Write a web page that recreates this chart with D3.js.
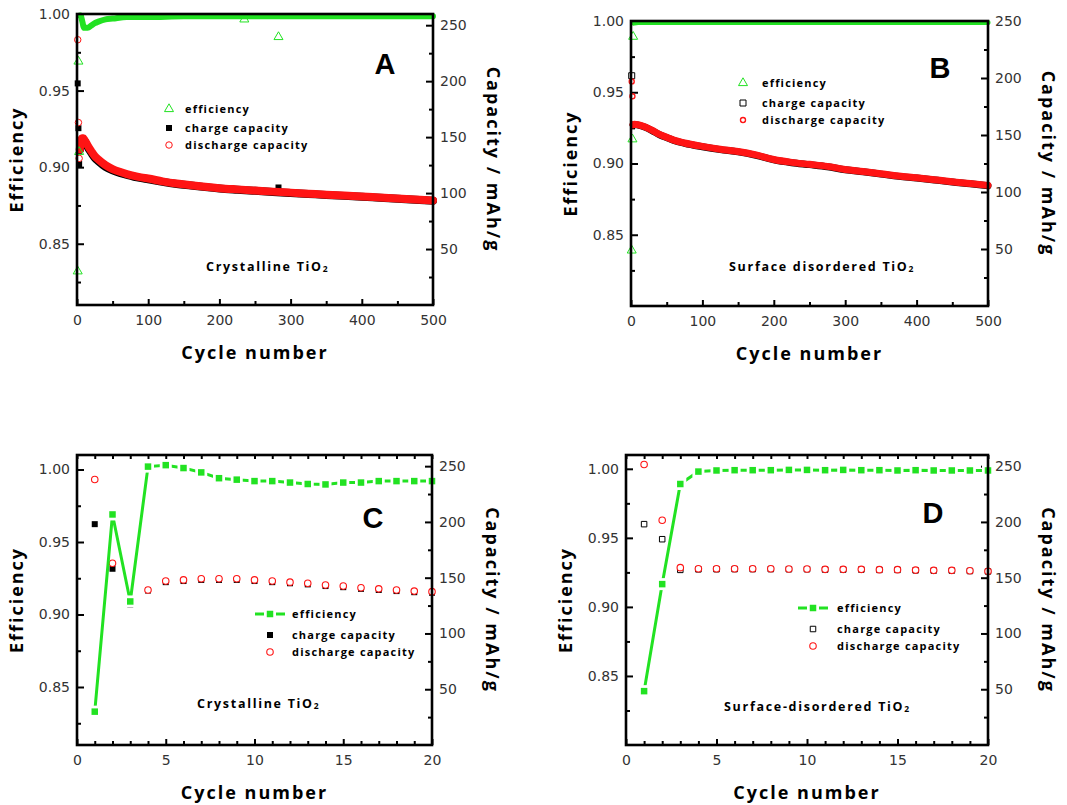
<!DOCTYPE html>
<meta charset='utf-8'>
<title>TiO2 cycling</title>
<style>
body {
  margin: 0;
  background-color: #fff;
}
</style>
<svg width="1067" height="805"></svg>
<script src="https://d3js.org/d3.v7.min.js"></script>
<script>

// ---------- values ----------

// tick labels
var longXTicks  = [0, 100, 200, 300, 400, 500];
var longXMinor  = [50, 150, 250, 350, 450];
var shortXTicks = [0, 5, 10, 15, 20];
var shortXMinor = [1, 2, 3, 4, 6, 7, 8, 9, 11, 12, 13, 14, 16, 17, 18, 19];
var effTicks    = [0.85, 0.90, 0.95, 1.00];
var effMinor    = [0.825, 0.875, 0.925, 0.975];
var capTicks    = [50, 100, 150, 200, 250];
var capMinor    = [25, 75, 125, 175, 225];

// Panel A - crystalline TiO2, 500 cycles
var aEffCycles    = [4, 5, 6, 7, 8, 9, 10, 12, 15, 20, 25, 30, 40, 50, 70, 100, 150, 200, 250, 300, 350, 400, 450, 500];
var aEffValues    = [0.999, 0.999, 0.998, 0.996, 0.994, 0.992, 0.991, 0.991, 0.991, 0.9925, 0.994, 0.995, 0.9965, 0.997, 0.998, 0.998, 0.9985, 0.9985, 0.9985, 0.9985, 0.9985, 0.9985, 0.9985, 0.9985];
var aEffOutCycles = [1, 2, 3, 235, 283];
var aEffOutValues = [0.832, 0.969, 0.910, 0.9965, 0.985];
var aCapCycles    = [4, 5, 6, 7, 8, 9, 10, 12, 15, 20, 25, 30, 40, 50, 60, 70, 80, 90, 100, 120, 140, 160, 180, 200, 225, 250, 275, 300, 325, 350, 375, 400, 425, 450, 475, 500];
var aDisValues    = [139, 147, 148, 149, 149, 149, 148, 146, 142.5, 137.5, 133, 130, 125, 121.5, 119, 117, 115.3, 114, 113, 110.5, 108.5, 107, 105.6, 104.4, 103.3, 102.3, 101.3, 100.4, 99.5, 98.6, 97.8, 97, 96.1, 95.2, 94.3, 93.4];
var aChgValues    = [138.5, 146.5, 147.5, 148, 148, 147.5, 147, 145, 141, 136, 131.5, 128.5, 123.5, 120.3, 118, 116.2, 114.6, 113.4, 112.4, 110, 108.1, 106.7, 105.3, 104.1, 103, 102, 101, 100.1, 99.2, 98.3, 97.5, 96.7, 95.8, 94.9, 94, 93.1];
var aDisOutCycles = [1, 2, 3];
var aDisOutValues = [237, 163, 131];
var aChgOutCycles = [1, 2, 3, 283];
var aChgOutValues = [198, 158, 126, 105];

// Panel B - surface disordered TiO2, 500 cycles
var bEffCycles    = [4, 10, 50, 100, 200, 300, 400, 500];
var bEffValues    = [0.9985, 0.999, 0.999, 0.999, 0.999, 0.999, 0.999, 0.999];
var bEffOutCycles = [1, 2, 3];
var bEffOutValues = [0.839, 0.917, 0.989];
var bCapCycles    = [3, 5, 10, 20, 30, 40, 50, 60, 75, 100, 125, 150, 175, 200, 225, 250, 275, 300, 325, 350, 375, 400, 425, 450, 475, 500];
var bDisValues    = [159, 159.5, 159, 157, 154, 150.5, 148, 145.5, 143, 140, 137.5, 135.5, 132.5, 128.5, 126, 124.3, 122.5, 119.8, 118, 116, 114, 112.5, 110.8, 109, 107.5, 105.8];
var bChgValues    = [158.7, 159.2, 158.7, 156.7, 153.7, 150.2, 147.7, 145.2, 142.7, 139.7, 137.2, 135.2, 132.2, 128.2, 125.7, 124, 122.2, 119.5, 117.7, 115.7, 113.7, 112.2, 110.5, 108.7, 107.2, 105.5];
var bDisOutCycles = [1, 2];
var bDisOutValues = [197, 184];
var bChgOutCycles = [1];
var bChgOutValues = [202];

// Panels C and D - first 20 cycles
var cycles20 = [1, 2, 3, 4, 5, 6, 7, 8, 9, 10, 11, 12, 13, 14, 15, 16, 17, 18, 19, 20];
var cEff = [0.833, 0.969, 0.909, 1.002, 1.003, 1.001, 0.998, 0.994, 0.993, 0.992, 0.992, 0.991, 0.990, 0.9897, 0.991, 0.991, 0.992, 0.992, 0.992, 0.992];
var cDis = [238, 163, 130, 139, 147, 148, 149, 149, 149, 148, 147, 146, 145, 143.5, 142.5, 141, 140, 139, 138, 137.5];
var cChg = [198, 158, 126, 138.5, 146, 147, 148, 148, 148, 147, 146, 145, 144, 142.5, 141.5, 140, 139, 138, 137, 136.5];
var dEff = [0.839, 0.9165, 0.989, 0.998, 0.9988, 0.999, 0.999, 0.999, 0.9992, 0.9992, 0.999, 0.9992, 0.999, 0.999, 0.9988, 0.999, 0.9988, 0.9988, 0.9988, 0.9988];
var dDis = [251.5, 201.5, 159, 158, 158, 158, 158, 158, 157.8, 157.8, 157.5, 157.5, 157.5, 157.2, 157.2, 156.8, 156.6, 156.6, 156.2, 155.8];
var dChg = [198, 184.5, 157, 157.5, 157.6, 157.7, 157.7, 157.7, 157.6, 157.6, 157.3, 157.3, 157.3, 157, 157, 156.6, 156.4, 156.4, 156, 155.6];

var legendNames = ["efficiency", "charge capacity", "discharge capacity"];

// ---------- styles ----------
var GREEN = "#22e222", RED = "#ff1414";
var FONT = "'Open Sans', sans-serif";
var TICKFONT = "'DejaVu Sans', sans-serif";

var svg = d3.select("svg");

var panels = [
  { letter: "A", left: 77, right: 433, top: 14, bottom: 305,
    xDomain: [0, 500], xTicks: longXTicks, xMinor: longXMinor, topTicks: false,
    effDomain: [0.81, 1.0], capDomain: [0, 260],
    letterPos: [-48, 50], material: ["Crystalline TiO", 129, 253],
    legend: { sx: 92, tx: 108, ys: [95, 114, 131] },
    styles: [
      { type: "triangle", size: 9, fill: "none", stroke: GREEN, sw: 1 },
      { type: "square", size: 6, fill: "#000", stroke: "none", sw: 0 },
      { type: "circle", size: 6.5, fill: "#fff", stroke: RED, sw: 1 }
    ],
    series: [
      { band: true, cycles: aCapCycles, values: aChgValues, axis: "cap", s: 1, width: 8, color: "#000" },
      { cycles: aChgOutCycles, values: aChgOutValues, axis: "cap", s: 1 },
      { band: true, cycles: aCapCycles, values: aDisValues, axis: "cap", s: 2, width: 8, color: RED },
      { cycles: aDisOutCycles, values: aDisOutValues, axis: "cap", s: 2 },
      { band: true, cycles: aEffCycles, values: aEffValues, axis: "eff", s: 0, width: 6, color: GREEN },
      { cycles: aEffOutCycles, values: aEffOutValues, axis: "eff", s: 0 }
    ] },
  { letter: "B", left: 631, right: 988, top: 21, bottom: 306,
    xDomain: [0, 500], xTicks: longXTicks, xMinor: longXMinor, topTicks: false,
    effDomain: [0.80, 1.0], capDomain: [0, 250],
    letterPos: [-48, 47], material: ["Surface disordered TiO", 98, 246],
    legend: { sx: 112, tx: 131, ys: [62, 82, 99] },
    styles: [
      { type: "triangle", size: 9, fill: "none", stroke: GREEN, sw: 1 },
      { type: "square", size: 6, fill: "#fff", stroke: "#000", sw: 1 },
      { type: "circle", size: 5, fill: "#fff", stroke: RED, sw: 1.4 }
    ],
    series: [
      { band: true, cycles: bCapCycles, values: bChgValues, axis: "cap", s: 1, width: 7, color: "#000" },
      { cycles: bChgOutCycles, values: bChgOutValues, axis: "cap", s: 1 },
      { band: true, cycles: bCapCycles, values: bDisValues, axis: "cap", s: 2, width: 7, color: RED },
      { cycles: bDisOutCycles, values: bDisOutValues, axis: "cap", s: 2 },
      { band: true, cycles: bEffCycles, values: bEffValues, axis: "eff", s: 0, width: 5, color: GREEN },
      { cycles: bEffOutCycles, values: bEffOutValues, axis: "eff", s: 0 }
    ] },
  { letter: "C", left: 77, right: 432, top: 455, bottom: 745,
    xDomain: [0, 20], xTicks: shortXTicks, xMinor: shortXMinor, topTicks: true,
    effDomain: [0.81, 1.01], capDomain: [0, 260],
    letterPos: [-59, 63], material: ["Crystalline TiO", 120, 249],
    legend: { sx: 193, tx: 215, ys: [159, 180, 197], line: true },
    styles: [
      { type: "square", size: 6.5, fill: GREEN, stroke: "none", sw: 0 },
      { type: "square", size: 6, fill: "#000", stroke: "none", sw: 0 },
      { type: "circle", size: 6.5, fill: "#fff", stroke: RED, sw: 1.1 }
    ],
    series: [
      { cycles: cycles20, values: cChg, axis: "cap", s: 1 },
      { cycles: cycles20, values: cDis, axis: "cap", s: 2 },
      { line: true, cycles: cycles20, values: cEff, axis: "eff", s: 0 }
    ] },
  { letter: "D", left: 626, right: 988, top: 455, bottom: 745,
    xDomain: [0, 20], xTicks: shortXTicks, xMinor: shortXMinor, topTicks: true,
    effDomain: [0.80, 1.01], capDomain: [0, 260],
    letterPos: [-55, 58], material: ["Surface-disordered TiO", 98, 252],
    legend: { sx: 187, tx: 211, ys: [153, 174, 191], line: true },
    styles: [
      { type: "square", size: 6.5, fill: GREEN, stroke: "none", sw: 0 },
      { type: "square", size: 5.5, fill: "#fff", stroke: "#000", sw: 1 },
      { type: "circle", size: 6.5, fill: "#fff", stroke: RED, sw: 1.1 }
    ],
    series: [
      { cycles: cycles20, values: dChg, axis: "cap", s: 1 },
      { cycles: cycles20, values: dDis, axis: "cap", s: 2 },
      { line: true, cycles: cycles20, values: dEff, axis: "eff", s: 0 }
    ] }
];

function symbolPath(type, px) {
  if (type === "triangle") return d3.symbol().type(d3.symbolTriangle).size(px * px * 0.433)();
  if (type === "square") return d3.symbol().type(d3.symbolSquare).size(px * px)();
  return d3.symbol().type(d3.symbolCircle).size(Math.PI * px * px / 4)();
}

function styleAxis(g) {
  g.select(".domain").remove();
  g.selectAll(".tick line").attr("stroke", "#000").attr("stroke-width", 2);
  g.selectAll(".tick text")
      .attr("fill", "#333")
      .style("font-family", TICKFONT)
      .style("font-size", "14px");
}

function drawMarks(g, pts, st) {
  g.selectAll(null)
      .data(pts)
    .enter().append("path")
      .attr("transform", function(d) { return "translate(" + d[0] + "," + d[1] + ")"; })
      .attr("d", symbolPath(st.type, st.size))
      .attr("fill", st.fill)
      .attr("stroke", st.stroke)
      .attr("stroke-width", st.sw);
}

function drawPanel(p) {
  var g = svg.append("g");
  var x = d3.scaleLinear().domain(p.xDomain).range([p.left, p.right]);
  var yE = d3.scaleLinear().domain(p.effDomain).range([p.bottom, p.top]);
  var yC = d3.scaleLinear().domain(p.capDomain).range([p.bottom, p.top]);
  var ys = { eff: yE, cap: yC };

  // axes, ticks pointing inward
  g.append("g").attr("transform", "translate(" + p.left + ",0)")
      .call(d3.axisLeft(yE).tickValues(effTicks).tickFormat(d3.format(".2f")).tickSize(-7).tickPadding(7))
      .call(styleAxis);
  g.append("g").attr("transform", "translate(" + p.left + ",0)")
      .call(d3.axisLeft(yE).tickValues(effMinor).tickFormat("").tickSize(-4))
      .call(styleAxis);
  g.append("g").attr("transform", "translate(" + p.right + ",0)")
      .call(d3.axisRight(yC).tickValues(capTicks).tickSize(-7).tickPadding(7))
      .call(styleAxis);
  g.append("g").attr("transform", "translate(" + p.right + ",0)")
      .call(d3.axisRight(yC).tickValues(capMinor).tickFormat("").tickSize(-4))
      .call(styleAxis);
  g.append("g").attr("transform", "translate(0," + p.bottom + ")")
      .call(d3.axisBottom(x).tickValues(p.xTicks).tickSize(-6).tickPadding(10))
      .call(styleAxis);
  g.append("g").attr("transform", "translate(0," + p.bottom + ")")
      .call(d3.axisBottom(x).tickValues(p.xMinor).tickFormat("").tickSize(-4))
      .call(styleAxis);
  if (p.topTicks) {
    g.append("g").attr("transform", "translate(0," + p.top + ")")
        .call(d3.axisTop(x).tickValues(p.xTicks.concat(p.xMinor)).tickFormat("").tickSize(-4))
        .call(styleAxis);
  }

  // data
  p.series.forEach(function(s) {
    var y = ys[s.axis];
    var pts = d3.zip(s.cycles, s.values).map(function(d) { return [x(d[0]), y(d[1])]; });
    var st = p.styles[s.s];
    if (s.band) {
      g.append("path")
          .datum(pts)
          .attr("fill", "none")
          .attr("stroke", s.color)
          .attr("stroke-width", s.width)
          .attr("stroke-linecap", "round")
          .attr("stroke-linejoin", "round")
          .attr("d", d3.line().curve(d3.curveMonotoneX));
      return;
    }
    if (s.line) {
      g.append("path")
          .datum(pts)
          .attr("fill", "none")
          .attr("stroke", GREEN)
          .attr("stroke-width", 3)
          .attr("d", d3.line());
      drawMarks(g, pts, { type: "square", size: 12, fill: "#fff", stroke: "none", sw: 0 });
    }
    drawMarks(g, pts, st);
  });

  // frame
  g.append("rect")
      .attr("x", p.left).attr("y", p.top)
      .attr("width", p.right - p.left).attr("height", p.bottom - p.top)
      .attr("fill", "none").attr("stroke", "#000").attr("stroke-width", 2.6);

  // axis titles
  var cx = (p.left + p.right) / 2, cy = (p.top + p.bottom) / 2;
  g.append("text")
      .attr("x", cx).attr("y", p.bottom + 54)
      .attr("text-anchor", "middle")
      .style("font-family", FONT).style("font-weight", "bold")
      .style("font-size", "18px").style("letter-spacing", "2px")
      .text("Cycle number");
  g.append("text")
      .attr("transform", "translate(" + (p.left - 54) + "," + cy + ") rotate(-90)")
      .attr("text-anchor", "middle")
      .style("font-family", FONT).style("font-weight", "bold")
      .style("font-size", "18px").style("letter-spacing", "2px")
      .text("Efficiency");
  g.append("text")
      .attr("transform", "translate(" + (p.right + 54) + "," + cy + ") rotate(90)")
      .attr("text-anchor", "middle")
      .style("font-family", FONT).style("font-weight", "bold")
      .style("font-size", "18px").style("letter-spacing", "2px")
      .text("Capacity / mAh/g");

  // panel letter
  g.append("text")
      .attr("x", p.right + p.letterPos[0]).attr("y", p.top + p.letterPos[1] + 10)
      .attr("text-anchor", "middle")
      .style("font-family", "'Liberation Sans', Arial, sans-serif")
      .style("font-weight", "bold").style("font-size", "29px")
      .text(p.letter);

  // material label
  var m = g.append("text")
      .attr("x", p.left + p.material[1]).attr("y", p.top + p.material[2] + 4)
      .style("font-family", FONT).style("font-weight", "bold")
      .style("font-size", "12.5px").style("letter-spacing", "1.7px")
      .text(p.material[0]);
  m.append("tspan").attr("font-size", "8.5px").attr("dy", 1).text("2");

  // legend
  var L = p.legend;
  legendNames.forEach(function(name, i) {
    var lx = p.left + L.sx, ly = p.top + L.ys[i];
    if (i === 0 && L.line) {
      g.append("line")
          .attr("x1", lx - 15).attr("x2", lx + 15)
          .attr("y1", ly).attr("y2", ly)
          .attr("stroke", GREEN).attr("stroke-width", 3);
      drawMarks(g, [[lx, ly]], { type: "square", size: 12, fill: "#fff", stroke: "none", sw: 0 });
    }
    drawMarks(g, [[lx, ly]], p.styles[i]);
    g.append("text")
        .attr("x", p.left + L.tx).attr("y", ly + 4)
        .style("font-family", FONT).style("font-weight", "bold")
        .style("font-size", "11px").style("letter-spacing", "1.2px")
        .text(name);
  });
}

panels.forEach(drawPanel);

</script>
